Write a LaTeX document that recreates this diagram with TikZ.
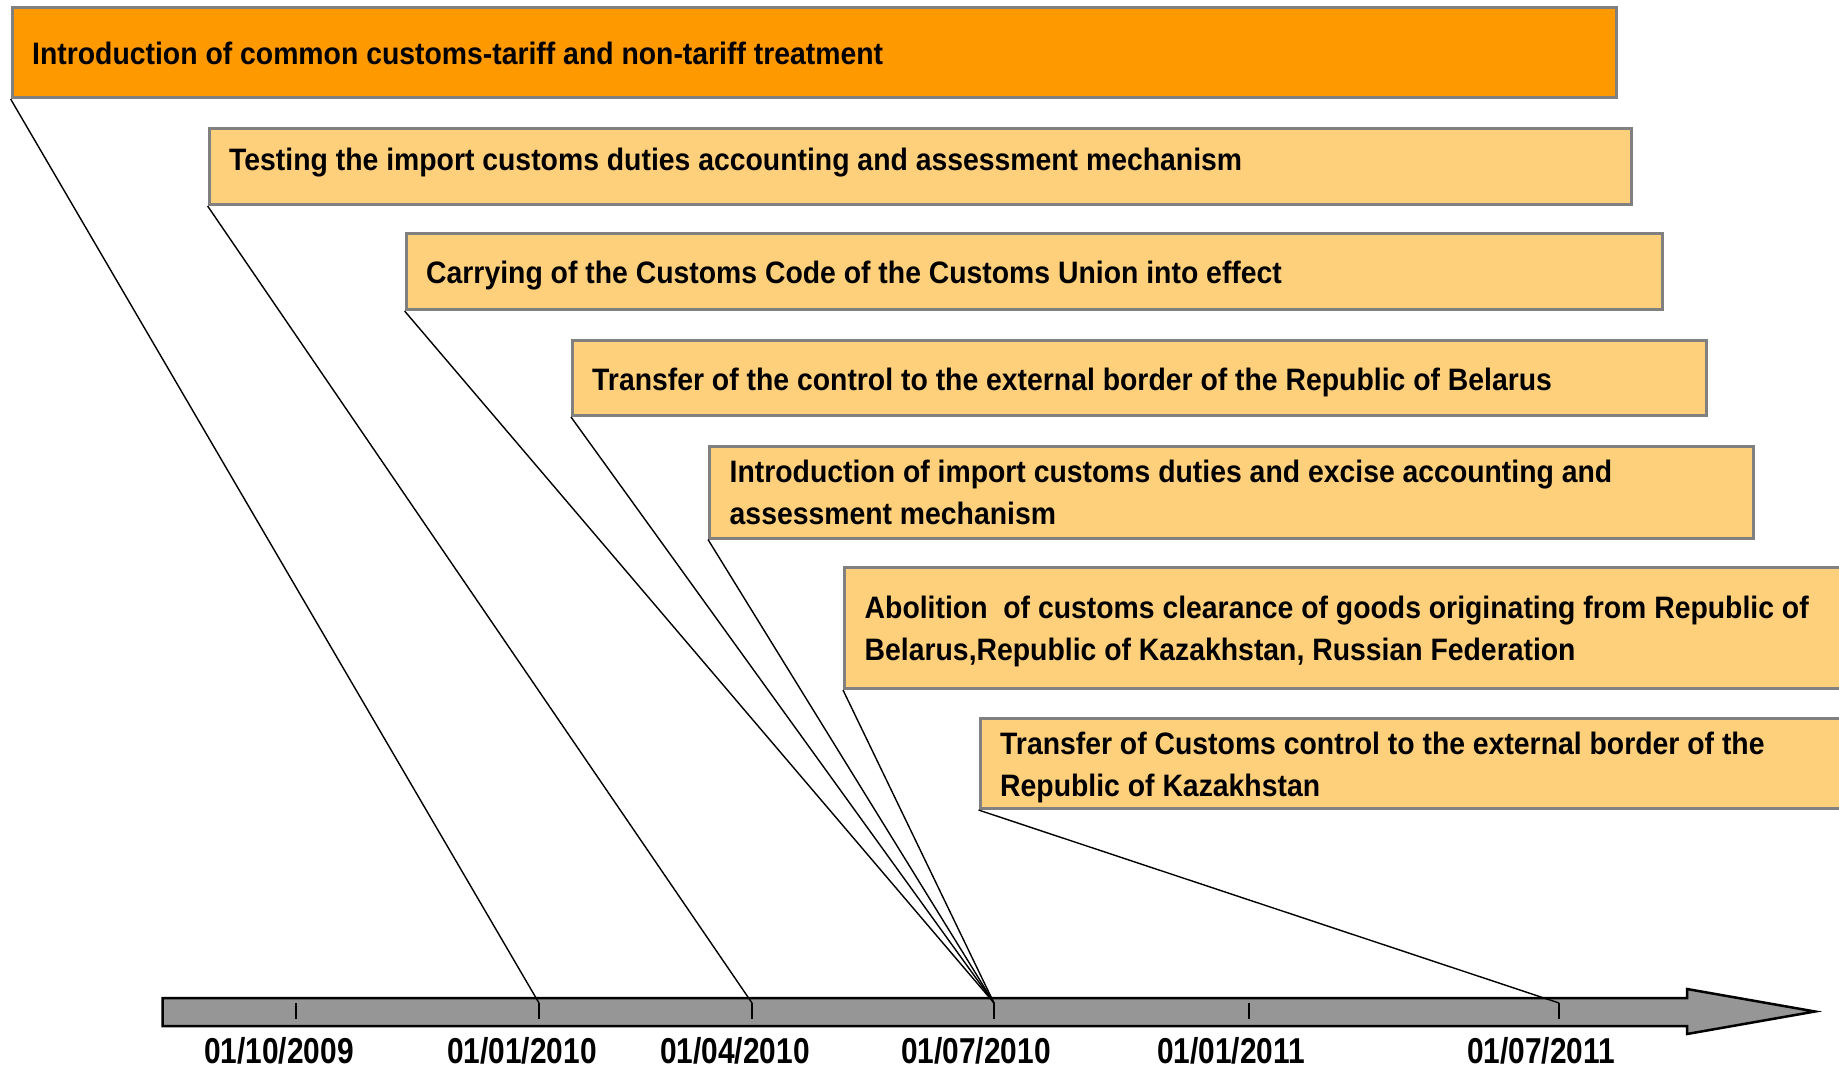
\documentclass[tikz,border=0pt]{standalone}
\usepackage{fontspec}
\setmainfont{Liberation Sans}[FakeStretch=0.83]
\newfontfamily\boxfont{Liberation Sans}[FakeStretch=0.915]
\definecolor{deeporange}{RGB}{255,153,0}
\definecolor{lightorange}{RGB}{255,208,123}
\definecolor{boxgray}{RGB}{128,128,128}
\definecolor{axisgray}{RGB}{150,150,150}
\begin{document}
\begin{tikzpicture}[x=1pt,y=-1pt,
  evbox/.style={draw=boxgray, line width=3pt, fill=lightorange, anchor=north west,
    inner sep=0pt},
  evtext/.style={anchor=base west, inner sep=0pt, align=left,
    font=\boxfont\fontsize{31}{42}\selectfont\bfseries},
  link/.style={black, line width=1.4pt},
  tickmark/.style={black, line width=1.4pt},
  axisbar/.style={draw=black, line width=2.5pt, fill=axisgray, line join=miter},
  datelabel/.style={font=\fontsize{36}{40}\selectfont\bfseries, anchor=base}]
\useasboundingbox (0,0) rectangle (1839,1067);

% event boxes
\node[evbox, fill=deeporange, minimum width=1604pt, minimum height=90pt] (b1) at (10.6,6) {};
\node[evbox, minimum width=1422pt, minimum height=76pt] (b2) at (207.6,127) {};
\node[evbox, minimum width=1256pt, minimum height=76pt] (b3) at (404.6,232) {};
\node[evbox, minimum width=1134pt, minimum height=75pt] (b4) at (571,339) {};
\node[evbox, minimum width=1044pt, minimum height=92pt] (b5) at (708,444.5) {};
\node[evbox, minimum width=1150pt, minimum height=121pt] (b6) at (843,566) {};
\node[evbox, minimum width=1000pt, minimum height=90pt] (b7) at (978.5,717) {};

% box texts (base anchor = baseline of the last line)
\node[evtext] (x1) at (32,65) {Introduction of common customs-tariff and non-tariff treatment};
\node[evtext] (x2) at (229,170.5) {Testing the import customs duties accounting and assessment mechanism};
\node[evtext] (x3) at (426,283.3) {Carrying of the Customs Code of the Customs Union into effect};
\node[evtext] (x4) at (592,390.7) {Transfer of the control to the external border of the Republic of Belarus};
\node[evtext] (x5) at (729.5,524.5) {Introduction of import customs duties and excise accounting and\\assessment mechanism};
\node[evtext] (x6) at (864.5,660.5) {Abolition\ \ of customs clearance of goods originating from Republic of\\Belarus,Republic of Kazakhstan, Russian Federation};
\node[evtext] (x7) at (1000,796.7) {Transfer of Customs control to the external border of the\\Republic of Kazakhstan};

% time axis
\draw[axisbar] (162.5,998) -- (1687,998) -- (1687,989) -- (1815,1011.5)
  -- (1687,1034) -- (1687,1026) -- (162.5,1026) -- cycle;

\coordinate (t1) at (296,1003);
\coordinate (t2) at (539,1003);
\coordinate (t3) at (752,1003);
\coordinate (t4) at (994,1003);
\coordinate (t5) at (1249,1003);
\coordinate (t6) at (1559,1003);
\foreach \t in {t1,t2,t3,t4,t5,t6} \draw[tickmark] (\t) -- ++(0,16);

% connectors
\draw[link] (b1.south west) -- (t2);
\draw[link] (b2.south west) -- (t3);
\draw[link] (b3.south west) -- (t4);
\draw[link] (b4.south west) -- (t4);
\draw[link] (b5.south west) -- (t4);
\draw[link] (b6.south west) -- (t4);
\draw[link] (b7.south west) -- (t6);

% date labels
\node[datelabel] (l1) at (279,1063) {01/10/2009};
\node[datelabel] (l2) at (522,1063) {01/01/2010};
\node[datelabel] (l3) at (735,1063) {01/04/2010};
\node[datelabel] (l4) at (976,1063) {01/07/2010};
\node[datelabel] (l5) at (1231,1063) {01/01/2011};
\node[datelabel] (l6) at (1541,1063) {01/07/2011};
\end{tikzpicture}
\end{document}
